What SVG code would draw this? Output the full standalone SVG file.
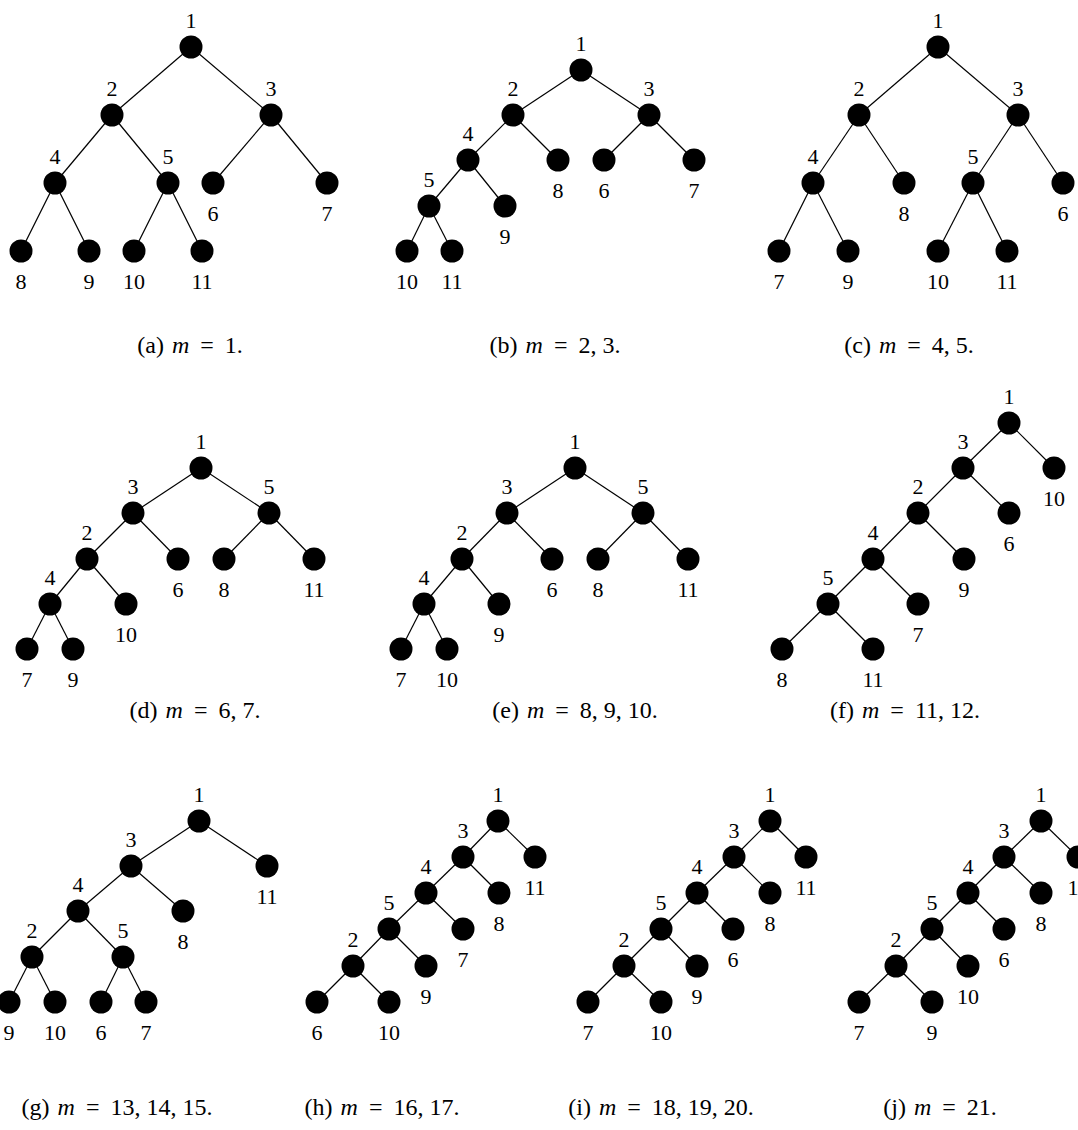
<svg xmlns="http://www.w3.org/2000/svg" width="1078" height="1130" viewBox="0 0 1078 1130">
<style>
.e line{stroke:#000;stroke-width:1.2}
circle{fill:#000}
text{font-family:"Liberation Serif","DejaVu Serif",serif;font-size:22px;fill:#000;text-anchor:middle}
.cap text{font-size:24px}
.it{font-style:italic}
</style>
<rect width="1078" height="1130" fill="#fff"/>
<g class="e" id="connectors">
<line x1="191" y1="47" x2="112" y2="115"/><line x1="191" y1="47" x2="271" y2="115"/>
<line x1="112" y1="115" x2="55" y2="183"/><line x1="112" y1="115" x2="168" y2="183"/>
<line x1="271" y1="115" x2="213" y2="183"/><line x1="271" y1="115" x2="327" y2="183"/>
<line x1="55" y1="183" x2="21" y2="251"/><line x1="55" y1="183" x2="89" y2="251"/>
<line x1="168" y1="183" x2="134" y2="251"/><line x1="168" y1="183" x2="202" y2="251"/>
<line x1="581" y1="70" x2="513" y2="115"/><line x1="581" y1="70" x2="649" y2="115"/>
<line x1="513" y1="115" x2="468" y2="160"/><line x1="513" y1="115" x2="558" y2="160"/>
<line x1="649" y1="115" x2="604" y2="160"/><line x1="649" y1="115" x2="694" y2="160"/>
<line x1="468" y1="160" x2="429" y2="206"/><line x1="468" y1="160" x2="505" y2="206"/>
<line x1="429" y1="206" x2="407" y2="251"/><line x1="429" y1="206" x2="452" y2="251"/>
<line x1="938" y1="47" x2="859" y2="115"/><line x1="938" y1="47" x2="1018" y2="115"/>
<line x1="859" y1="115" x2="813" y2="183"/><line x1="859" y1="115" x2="904" y2="183"/>
<line x1="1018" y1="115" x2="973" y2="183"/><line x1="1018" y1="115" x2="1063" y2="183"/>
<line x1="813" y1="183" x2="779" y2="251"/><line x1="813" y1="183" x2="848" y2="251"/>
<line x1="973" y1="183" x2="938" y2="251"/><line x1="973" y1="183" x2="1007" y2="251"/>
<line x1="201" y1="468" x2="133" y2="513"/><line x1="201" y1="468" x2="269" y2="513"/>
<line x1="133" y1="513" x2="87" y2="559"/><line x1="133" y1="513" x2="178" y2="559"/>
<line x1="269" y1="513" x2="224" y2="559"/><line x1="269" y1="513" x2="314" y2="559"/>
<line x1="87" y1="559" x2="50" y2="604"/><line x1="87" y1="559" x2="126" y2="604"/>
<line x1="50" y1="604" x2="27" y2="649"/><line x1="50" y1="604" x2="73" y2="649"/>
<line x1="575" y1="468" x2="507" y2="513"/><line x1="575" y1="468" x2="643" y2="513"/>
<line x1="507" y1="513" x2="462" y2="559"/><line x1="507" y1="513" x2="552" y2="559"/>
<line x1="643" y1="513" x2="598" y2="559"/><line x1="643" y1="513" x2="688" y2="559"/>
<line x1="462" y1="559" x2="424" y2="604"/><line x1="462" y1="559" x2="499" y2="604"/>
<line x1="424" y1="604" x2="401" y2="649"/><line x1="424" y1="604" x2="447" y2="649"/>
<line x1="1009" y1="423" x2="963" y2="468"/><line x1="1009" y1="423" x2="1054" y2="468"/>
<line x1="963" y1="468" x2="918" y2="513"/><line x1="963" y1="468" x2="1009" y2="513"/>
<line x1="918" y1="513" x2="873" y2="559"/><line x1="918" y1="513" x2="964" y2="559"/>
<line x1="873" y1="559" x2="828" y2="604"/><line x1="873" y1="559" x2="918" y2="604"/>
<line x1="828" y1="604" x2="782" y2="649"/><line x1="828" y1="604" x2="873" y2="649"/>
<line x1="199" y1="821" x2="131" y2="866"/><line x1="199" y1="821" x2="267" y2="866"/>
<line x1="131" y1="866" x2="78" y2="911"/><line x1="131" y1="866" x2="183" y2="911"/>
<line x1="78" y1="911" x2="32" y2="957"/><line x1="78" y1="911" x2="123" y2="957"/>
<line x1="32" y1="957" x2="9" y2="1002"/><line x1="32" y1="957" x2="55" y2="1002"/>
<line x1="123" y1="957" x2="101" y2="1002"/><line x1="123" y1="957" x2="146" y2="1002"/>
<line x1="498" y1="821" x2="463" y2="857"/><line x1="498" y1="821" x2="535" y2="857"/>
<line x1="463" y1="857" x2="426" y2="893"/><line x1="463" y1="857" x2="499" y2="893"/>
<line x1="426" y1="893" x2="389" y2="929"/><line x1="426" y1="893" x2="463" y2="929"/>
<line x1="389" y1="929" x2="353" y2="966"/><line x1="389" y1="929" x2="426" y2="966"/>
<line x1="353" y1="966" x2="317" y2="1002"/><line x1="353" y1="966" x2="389" y2="1002"/>
<line x1="770" y1="821" x2="734" y2="857"/><line x1="770" y1="821" x2="806" y2="857"/>
<line x1="734" y1="857" x2="697" y2="893"/><line x1="734" y1="857" x2="770" y2="893"/>
<line x1="697" y1="893" x2="661" y2="929"/><line x1="697" y1="893" x2="733" y2="929"/>
<line x1="661" y1="929" x2="624" y2="966"/><line x1="661" y1="929" x2="697" y2="966"/>
<line x1="624" y1="966" x2="588" y2="1002"/><line x1="624" y1="966" x2="661" y2="1002"/>
<line x1="1041" y1="821" x2="1004" y2="857"/><line x1="1041" y1="821" x2="1078" y2="857"/>
<line x1="1004" y1="857" x2="968" y2="893"/><line x1="1004" y1="857" x2="1041" y2="893"/>
<line x1="968" y1="893" x2="932" y2="929"/><line x1="968" y1="893" x2="1004" y2="929"/>
<line x1="932" y1="929" x2="896" y2="966"/><line x1="932" y1="929" x2="968" y2="966"/>
<line x1="896" y1="966" x2="859" y2="1002"/><line x1="896" y1="966" x2="932" y2="1002"/>
</g>
<g id="tree-a">
<g id="a1"><circle cx="191" cy="47" r="11.5"/><text x="191" y="28">1</text></g>
<g id="a2"><circle cx="112" cy="115" r="11.5"/><text x="112" y="96">2</text></g>
<g id="a3"><circle cx="271" cy="115" r="11.5"/><text x="271" y="96">3</text></g>
<g id="a4"><circle cx="55" cy="183" r="11.5"/><text x="55" y="164">4</text></g>
<g id="a5"><circle cx="168" cy="183" r="11.5"/><text x="168" y="164">5</text></g>
<g id="a6"><circle cx="213" cy="183" r="11.5"/><text x="213" y="221">6</text></g>
<g id="a7"><circle cx="327" cy="183" r="11.5"/><text x="327" y="221">7</text></g>
<g id="a8"><circle cx="21" cy="251" r="11.5"/><text x="21" y="289">8</text></g>
<g id="a9"><circle cx="89" cy="251" r="11.5"/><text x="89" y="289">9</text></g>
<g id="a10"><circle cx="134" cy="251" r="11.5"/><text x="134" y="289">10</text></g>
<g id="a11"><circle cx="202" cy="251" r="11.5"/><text x="202" y="289">11</text></g>
</g>
<g id="tree-b">
<g id="b1"><circle cx="581" cy="70" r="11.5"/><text x="581" y="51">1</text></g>
<g id="b2"><circle cx="513" cy="115" r="11.5"/><text x="513" y="96">2</text></g>
<g id="b3"><circle cx="649" cy="115" r="11.5"/><text x="649" y="96">3</text></g>
<g id="b4"><circle cx="468" cy="160" r="11.5"/><text x="468" y="141">4</text></g>
<g id="b8"><circle cx="558" cy="160" r="11.5"/><text x="558" y="198">8</text></g>
<g id="b6"><circle cx="604" cy="160" r="11.5"/><text x="604" y="198">6</text></g>
<g id="b7"><circle cx="694" cy="160" r="11.5"/><text x="694" y="198">7</text></g>
<g id="b5"><circle cx="429" cy="206" r="11.5"/><text x="429" y="187">5</text></g>
<g id="b9"><circle cx="505" cy="206" r="11.5"/><text x="505" y="244">9</text></g>
<g id="b10"><circle cx="407" cy="251" r="11.5"/><text x="407" y="289">10</text></g>
<g id="b11"><circle cx="452" cy="251" r="11.5"/><text x="452" y="289">11</text></g>
</g>
<g id="tree-c">
<g id="c1"><circle cx="938" cy="47" r="11.5"/><text x="938" y="28">1</text></g>
<g id="c2"><circle cx="859" cy="115" r="11.5"/><text x="859" y="96">2</text></g>
<g id="c3"><circle cx="1018" cy="115" r="11.5"/><text x="1018" y="96">3</text></g>
<g id="c4"><circle cx="813" cy="183" r="11.5"/><text x="813" y="164">4</text></g>
<g id="c8"><circle cx="904" cy="183" r="11.5"/><text x="904" y="221">8</text></g>
<g id="c5"><circle cx="973" cy="183" r="11.5"/><text x="973" y="164">5</text></g>
<g id="c6"><circle cx="1063" cy="183" r="11.5"/><text x="1063" y="221">6</text></g>
<g id="c7"><circle cx="779" cy="251" r="11.5"/><text x="779" y="289">7</text></g>
<g id="c9"><circle cx="848" cy="251" r="11.5"/><text x="848" y="289">9</text></g>
<g id="c10"><circle cx="938" cy="251" r="11.5"/><text x="938" y="289">10</text></g>
<g id="c11"><circle cx="1007" cy="251" r="11.5"/><text x="1007" y="289">11</text></g>
</g>
<g id="tree-d">
<g id="d1"><circle cx="201" cy="468" r="11.5"/><text x="201" y="449">1</text></g>
<g id="d3"><circle cx="133" cy="513" r="11.5"/><text x="133" y="494">3</text></g>
<g id="d5"><circle cx="269" cy="513" r="11.5"/><text x="269" y="494">5</text></g>
<g id="d2"><circle cx="87" cy="559" r="11.5"/><text x="87" y="540">2</text></g>
<g id="d6"><circle cx="178" cy="559" r="11.5"/><text x="178" y="597">6</text></g>
<g id="d8"><circle cx="224" cy="559" r="11.5"/><text x="224" y="597">8</text></g>
<g id="d11"><circle cx="314" cy="559" r="11.5"/><text x="314" y="597">11</text></g>
<g id="d4"><circle cx="50" cy="604" r="11.5"/><text x="50" y="585">4</text></g>
<g id="d10"><circle cx="126" cy="604" r="11.5"/><text x="126" y="642">10</text></g>
<g id="d7"><circle cx="27" cy="649" r="11.5"/><text x="27" y="687">7</text></g>
<g id="d9"><circle cx="73" cy="649" r="11.5"/><text x="73" y="687">9</text></g>
</g>
<g id="tree-e">
<g id="e1"><circle cx="575" cy="468" r="11.5"/><text x="575" y="449">1</text></g>
<g id="e3"><circle cx="507" cy="513" r="11.5"/><text x="507" y="494">3</text></g>
<g id="e5"><circle cx="643" cy="513" r="11.5"/><text x="643" y="494">5</text></g>
<g id="e2"><circle cx="462" cy="559" r="11.5"/><text x="462" y="540">2</text></g>
<g id="e6"><circle cx="552" cy="559" r="11.5"/><text x="552" y="597">6</text></g>
<g id="e8"><circle cx="598" cy="559" r="11.5"/><text x="598" y="597">8</text></g>
<g id="e11"><circle cx="688" cy="559" r="11.5"/><text x="688" y="597">11</text></g>
<g id="e4"><circle cx="424" cy="604" r="11.5"/><text x="424" y="585">4</text></g>
<g id="e9"><circle cx="499" cy="604" r="11.5"/><text x="499" y="642">9</text></g>
<g id="e7"><circle cx="401" cy="649" r="11.5"/><text x="401" y="687">7</text></g>
<g id="e10"><circle cx="447" cy="649" r="11.5"/><text x="447" y="687">10</text></g>
</g>
<g id="tree-f">
<g id="f1"><circle cx="1009" cy="423" r="11.5"/><text x="1009" y="404">1</text></g>
<g id="f3"><circle cx="963" cy="468" r="11.5"/><text x="963" y="449">3</text></g>
<g id="f10"><circle cx="1054" cy="468" r="11.5"/><text x="1054" y="506">10</text></g>
<g id="f2"><circle cx="918" cy="513" r="11.5"/><text x="918" y="494">2</text></g>
<g id="f6"><circle cx="1009" cy="513" r="11.5"/><text x="1009" y="551">6</text></g>
<g id="f4"><circle cx="873" cy="559" r="11.5"/><text x="873" y="540">4</text></g>
<g id="f9"><circle cx="964" cy="559" r="11.5"/><text x="964" y="597">9</text></g>
<g id="f5"><circle cx="828" cy="604" r="11.5"/><text x="828" y="585">5</text></g>
<g id="f7"><circle cx="918" cy="604" r="11.5"/><text x="918" y="642">7</text></g>
<g id="f8"><circle cx="782" cy="649" r="11.5"/><text x="782" y="687">8</text></g>
<g id="f11"><circle cx="873" cy="649" r="11.5"/><text x="873" y="687">11</text></g>
</g>
<g id="tree-g">
<g id="g1"><circle cx="199" cy="821" r="11.5"/><text x="199" y="802">1</text></g>
<g id="g3"><circle cx="131" cy="866" r="11.5"/><text x="131" y="847">3</text></g>
<g id="g11"><circle cx="267" cy="866" r="11.5"/><text x="267" y="904">11</text></g>
<g id="g4"><circle cx="78" cy="911" r="11.5"/><text x="78" y="892">4</text></g>
<g id="g8"><circle cx="183" cy="911" r="11.5"/><text x="183" y="949">8</text></g>
<g id="g2"><circle cx="32" cy="957" r="11.5"/><text x="32" y="938">2</text></g>
<g id="g5"><circle cx="123" cy="957" r="11.5"/><text x="123" y="938">5</text></g>
<g id="g9"><circle cx="9" cy="1002" r="11.5"/><text x="9" y="1040">9</text></g>
<g id="g10"><circle cx="55" cy="1002" r="11.5"/><text x="55" y="1040">10</text></g>
<g id="g6"><circle cx="101" cy="1002" r="11.5"/><text x="101" y="1040">6</text></g>
<g id="g7"><circle cx="146" cy="1002" r="11.5"/><text x="146" y="1040">7</text></g>
</g>
<g id="tree-h">
<g id="h1"><circle cx="498" cy="821" r="11.5"/><text x="498" y="802">1</text></g>
<g id="h3"><circle cx="463" cy="857" r="11.5"/><text x="463" y="838">3</text></g>
<g id="h11"><circle cx="535" cy="857" r="11.5"/><text x="535" y="895">11</text></g>
<g id="h4"><circle cx="426" cy="893" r="11.5"/><text x="426" y="874">4</text></g>
<g id="h8"><circle cx="499" cy="893" r="11.5"/><text x="499" y="931">8</text></g>
<g id="h5"><circle cx="389" cy="929" r="11.5"/><text x="389" y="910">5</text></g>
<g id="h7"><circle cx="463" cy="929" r="11.5"/><text x="463" y="967">7</text></g>
<g id="h2"><circle cx="353" cy="966" r="11.5"/><text x="353" y="947">2</text></g>
<g id="h9"><circle cx="426" cy="966" r="11.5"/><text x="426" y="1004">9</text></g>
<g id="h6"><circle cx="317" cy="1002" r="11.5"/><text x="317" y="1040">6</text></g>
<g id="h10"><circle cx="389" cy="1002" r="11.5"/><text x="389" y="1040">10</text></g>
</g>
<g id="tree-i">
<g id="i1"><circle cx="770" cy="821" r="11.5"/><text x="770" y="802">1</text></g>
<g id="i3"><circle cx="734" cy="857" r="11.5"/><text x="734" y="838">3</text></g>
<g id="i11"><circle cx="806" cy="857" r="11.5"/><text x="806" y="895">11</text></g>
<g id="i4"><circle cx="697" cy="893" r="11.5"/><text x="697" y="874">4</text></g>
<g id="i8"><circle cx="770" cy="893" r="11.5"/><text x="770" y="931">8</text></g>
<g id="i5"><circle cx="661" cy="929" r="11.5"/><text x="661" y="910">5</text></g>
<g id="i6"><circle cx="733" cy="929" r="11.5"/><text x="733" y="967">6</text></g>
<g id="i2"><circle cx="624" cy="966" r="11.5"/><text x="624" y="947">2</text></g>
<g id="i9"><circle cx="697" cy="966" r="11.5"/><text x="697" y="1004">9</text></g>
<g id="i7"><circle cx="588" cy="1002" r="11.5"/><text x="588" y="1040">7</text></g>
<g id="i10"><circle cx="661" cy="1002" r="11.5"/><text x="661" y="1040">10</text></g>
</g>
<g id="tree-j">
<g id="j1"><circle cx="1041" cy="821" r="11.5"/><text x="1041" y="802">1</text></g>
<g id="j3"><circle cx="1004" cy="857" r="11.5"/><text x="1004" y="838">3</text></g>
<g id="j11"><circle cx="1078" cy="857" r="11.5"/><text x="1078" y="895">11</text></g>
<g id="j4"><circle cx="968" cy="893" r="11.5"/><text x="968" y="874">4</text></g>
<g id="j8"><circle cx="1041" cy="893" r="11.5"/><text x="1041" y="931">8</text></g>
<g id="j5"><circle cx="932" cy="929" r="11.5"/><text x="932" y="910">5</text></g>
<g id="j6"><circle cx="1004" cy="929" r="11.5"/><text x="1004" y="967">6</text></g>
<g id="j2"><circle cx="896" cy="966" r="11.5"/><text x="896" y="947">2</text></g>
<g id="j10"><circle cx="968" cy="966" r="11.5"/><text x="968" y="1004">10</text></g>
<g id="j7"><circle cx="859" cy="1002" r="11.5"/><text x="859" y="1040">7</text></g>
<g id="j9"><circle cx="932" cy="1002" r="11.5"/><text x="932" y="1040">9</text></g>
</g>
<g id="captions" class="cap">
<text x="190" y="353">(a) <tspan class="it" dx="2">m</tspan><tspan dx="5"> = </tspan><tspan dx="5">1.</tspan></text>
<text x="555" y="353">(b) <tspan class="it" dx="2">m</tspan><tspan dx="5"> = </tspan><tspan dx="5">2, 3.</tspan></text>
<text x="909" y="353">(c) <tspan class="it" dx="2">m</tspan><tspan dx="5"> = </tspan><tspan dx="5">4, 5.</tspan></text>
<text x="195" y="718">(d) <tspan class="it" dx="2">m</tspan><tspan dx="5"> = </tspan><tspan dx="5">6, 7.</tspan></text>
<text x="575" y="718">(e) <tspan class="it" dx="2">m</tspan><tspan dx="5"> = </tspan><tspan dx="5">8, 9, 10.</tspan></text>
<text x="905" y="718">(f) <tspan class="it" dx="2">m</tspan><tspan dx="5"> = </tspan><tspan dx="5">11, 12.</tspan></text>
<text x="117" y="1115">(g) <tspan class="it" dx="2">m</tspan><tspan dx="5"> = </tspan><tspan dx="5">13, 14, 15.</tspan></text>
<text x="382" y="1115">(h) <tspan class="it" dx="2">m</tspan><tspan dx="5"> = </tspan><tspan dx="5">16, 17.</tspan></text>
<text x="661" y="1115">(i) <tspan class="it" dx="2">m</tspan><tspan dx="5"> = </tspan><tspan dx="5">18, 19, 20.</tspan></text>
<text x="940" y="1115">(j) <tspan class="it" dx="2">m</tspan><tspan dx="5"> = </tspan><tspan dx="5">21.</tspan></text>
</g>
</svg>
